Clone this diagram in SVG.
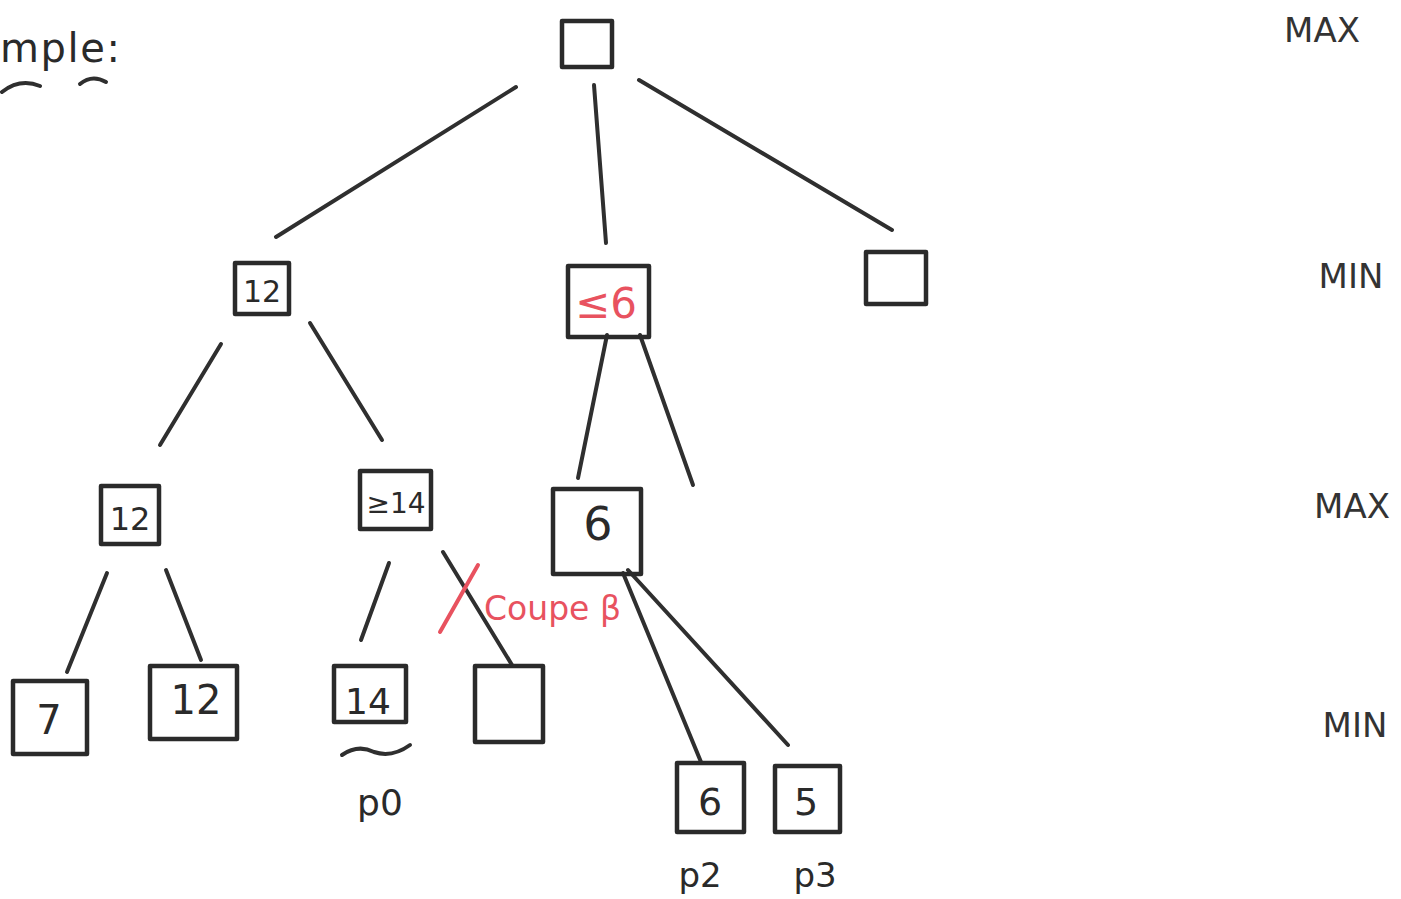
<svg xmlns="http://www.w3.org/2000/svg" width="1401" height="899" viewBox="0 0 1401 899">
<style>
.box{fill:none;stroke:#2a2a2a;stroke-width:4.5;stroke-linejoin:round}
.edge{stroke:#2f2f2f;stroke-width:4;stroke-linecap:round;fill:none}
.t{font-family:"DejaVu Sans",sans-serif;fill:#2a2a2a;text-anchor:middle}
.red{fill:#e8525f}
.redl{stroke:#e8525f;stroke-width:4;stroke-linecap:round;fill:none}
.lvl{font-family:"DejaVu Sans",sans-serif;fill:#333;font-size:34px;text-anchor:middle}
</style>
<rect width="1401" height="899" fill="#ffffff"/>
<g id="title">
<text x="0" y="62" font-family="DejaVu Sans,sans-serif" font-size="40" fill="#2a2a2a" textLength="120" lengthAdjust="spacing">mple:</text>
<path class="edge" d="M2 92 Q20 78 40 86"/>
<path class="edge" d="M80 84 Q92 74 106 82"/>
</g>
<g id="connectors">
<line class="edge" x1="516" y1="87" x2="276" y2="237"/>
<line class="edge" x1="594" y1="85" x2="606" y2="243"/>
<line class="edge" x1="639" y1="80" x2="892" y2="230"/>
<line class="edge" x1="221" y1="344" x2="160" y2="445"/>
<line class="edge" x1="310" y1="323" x2="382" y2="440"/>
<line class="edge" x1="607" y1="335" x2="578" y2="478"/>
<line class="edge" x1="640" y1="335" x2="693" y2="485"/>
<line class="edge" x1="107" y1="573" x2="67" y2="672"/>
<line class="edge" x1="166" y1="570" x2="201" y2="660"/>
<line class="edge" x1="389" y1="563" x2="361" y2="640"/>
<line class="edge" x1="443" y1="552" x2="512" y2="665"/>
<line class="edge" x1="623" y1="573" x2="701" y2="762"/>
<line class="edge" x1="628" y1="570" x2="788" y2="745"/>
</g>
<g id="root"><rect class="box" x="562" y="21" width="50" height="46"/></g>
<g id="min1"><rect class="box" x="235" y="263" width="54" height="51"/><text class="t" x="262" y="302" font-size="30">12</text></g>
<g id="min2"><rect class="box" x="568" y="266" width="81" height="71"/><text class="t red" x="606" y="318" font-size="42">≤6</text></g>
<g id="min3"><rect class="box" x="866" y="252" width="60" height="52"/></g>
<g id="max1"><rect class="box" x="101" y="486" width="58" height="58"/><text class="t" x="130" y="530" font-size="32">12</text></g>
<g id="max2"><rect class="box" x="360" y="471" width="71" height="58"/><text class="t" x="396" y="513" font-size="28">≥14</text></g>
<g id="max3"><rect class="box" x="553" y="489" width="88" height="85"/><text class="t" x="598" y="540" font-size="46">6</text></g>
<g id="leaf7"><rect class="box" x="13" y="681" width="74" height="73"/><text class="t" x="49" y="734" font-size="40">7</text></g>
<g id="leaf12"><rect class="box" x="150" y="666" width="87" height="73"/><text class="t" x="196" y="714" font-size="40">12</text></g>
<g id="leaf14"><rect class="box" x="334" y="666" width="72" height="56"/><text class="t" x="368" y="714" font-size="36">14</text>
<path class="edge" d="M342 755 Q358 744 374 752 Q392 758 410 745"/>
<text class="t" x="380" y="815" font-size="36">p0</text></g>
<g id="leafEmpty"><rect class="box" x="475" y="666" width="68" height="76"/></g>
<g id="leaf6"><rect class="box" x="677" y="763" width="67" height="69"/><text class="t" x="710" y="815" font-size="38">6</text>
<text class="t" x="700" y="887" font-size="34">p2</text></g>
<g id="leaf5"><rect class="box" x="775" y="766" width="65" height="66"/><text class="t" x="806" y="815" font-size="38">5</text>
<text class="t" x="815" y="887" font-size="34">p3</text></g>
<g id="cut">
<line class="redl" x1="440" y1="632" x2="478" y2="565"/>
<text x="484" y="620" font-family="DejaVu Sans,sans-serif" font-size="33" class="red">Coupe β</text>
</g>
<g id="levels">
<text class="lvl" x="1322" y="42">MAX</text>
<text class="lvl" x="1351" y="288">MIN</text>
<text class="lvl" x="1352" y="518">MAX</text>
<text class="lvl" x="1355" y="737">MIN</text>
</g>
</svg>
